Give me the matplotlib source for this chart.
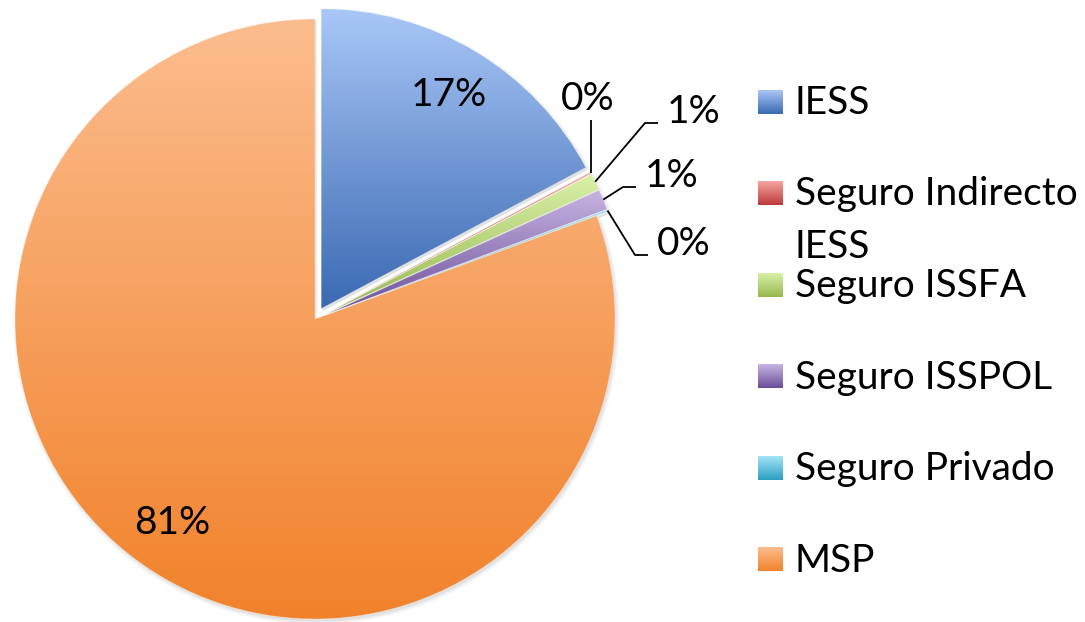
import numpy as np
import matplotlib.pyplot as plt
from matplotlib.colors import to_rgb
from matplotlib.patches import Wedge

# data
categories = ["IESS", "Seguro Indirecto\nIESS", "Seguro ISSFA", "Seguro ISSPOL",
              "Seguro Privado", "MSP"]
shares = [17.2, 0.1, 0.9, 1.1, 0.1, 80.6]
pct_labels = ["17%", "0%", "1%", "1%", "0%", "81%"]

top_colors = ["#a9c7f7", "#f7a4a2", "#d9f1a8", "#c7b4e2", "#a2e4f7", "#fcbd8e"]
bottom_colors = ["#3a69b2", "#bc3a39", "#95b74e", "#6c4e99", "#2d9ec1", "#f1822b"]
explode_frac = [0.04, 0.04, 0.04, 0.04, 0.04, 0.0]

# layout (pixels, y measured from the top)
W, H = 1085, 622
CX, CY, R = 315, 303, 300
big_label_r = 0.83
small_label_pos = {1: (588, 110, "center"), 2: (667, 123, "left"),
                   3: (645, 187, "left"), 4: (657, 255, "left")}
legend_x, legend_base, legend_step, line_step = 758, 114, 91.5, 52

FONT = "Lato"
FS = 28


def gradient_fill(ax, patch, top, bottom, zorder):
    x0, y0, x1, y1 = patch.get_path().get_extents().extents
    t = np.linspace(0, 1, 256)[:, None, None]
    img = np.array(to_rgb(top)) * (1 - t) + np.array(to_rgb(bottom)) * t
    im = ax.imshow(img, extent=(x0, x1, y0, y1), origin="upper", aspect="auto",
                   interpolation="bilinear", zorder=zorder)
    im.set_clip_path(patch)
    return im


fig = plt.figure(figsize=(W / 100, H / 100), dpi=100)
ax = fig.add_axes([0, 0, 1, 1])

wedges, _ = ax.pie(shares, radius=R, center=(CX, CY), startangle=90,
                   counterclock=False, explode=[e * R for e in explode_frac],
                   wedgeprops=dict(linewidth=0))
ax.set_xlim(0, W)
ax.set_ylim(0, H)
ax.axis("off")

for i, w in enumerate(wedges):
    # soft shadow
    for k, a in enumerate([0.10, 0.08, 0.06]):
        sh = Wedge((w.center[0] + 1.5, w.center[1] - 2.5), w.r + k * 1.5,
                   w.theta1, w.theta2, color="#7f7f7f", alpha=a, lw=0, zorder=1)
        ax.add_patch(sh)
    w.set_facecolor("none")
    w.set_zorder(3)
    gradient_fill(ax, w, top_colors[i], bottom_colors[i], zorder=2 + i * 0.01)
    w.set_edgecolor((1, 1, 1, 0.35))
    w.set_linewidth(0.6)

# percentage labels
for i, w in enumerate(wedges):
    mid = np.deg2rad((w.theta1 + w.theta2) / 2)
    if i in small_label_pos:
        tx, ty, ha = small_label_pos[i]
        ty = H - ty
        px = w.center[0] + w.r * np.cos(mid)
        py = w.center[1] + w.r * np.sin(mid)
        ax.text(tx, ty, pct_labels[i], ha=ha, va="baseline", fontsize=FS,
                family=FONT, color="black", zorder=5)
        if ha == "center":
            xs = [px, px]
            ys = [py, ty - 10]
        else:
            xs = [px, tx - 22, tx - 9]
            ys = [py, ty, ty]
        ax.plot(xs, ys, color="black", lw=1.3, zorder=4, solid_capstyle="butt")
    else:
        lx = w.center[0] + big_label_r * w.r * np.cos(mid)
        ly = w.center[1] + big_label_r * w.r * np.sin(mid)
        ax.text(lx, ly, pct_labels[i], ha="center", va="center", fontsize=FS,
                family=FONT, color="black", zorder=5)

# legend
base = legend_base
for i, name in enumerate(categories):
    y = H - base
    t = np.linspace(0, 1, 64)[:, None, None]
    img = np.array(to_rgb(top_colors[i])) * (1 - t) + np.array(to_rgb(bottom_colors[i])) * t
    ax.imshow(img, extent=(legend_x, legend_x + 25, y, y + 24), origin="upper",
              aspect="auto", interpolation="bilinear", zorder=2)
    for k, ln in enumerate(name.split("\n")):
        ax.text(legend_x + 37, y - k * line_step, ln, ha="left", va="baseline",
                fontsize=FS, family=FONT, color="black")
    base += legend_step

ax.set_xlim(0, W)
ax.set_ylim(0, H)
fig.savefig("out.png", dpi=100)
